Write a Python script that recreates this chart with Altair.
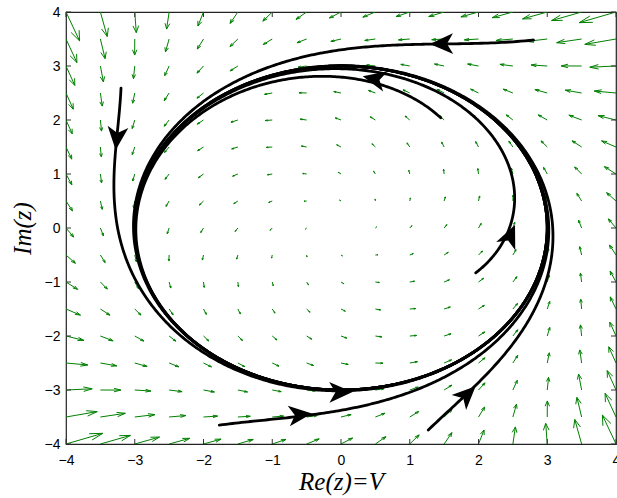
import numpy as np
import pandas as pd
import altair as alt

# Andronov-Hopf normal form  z' = (b + i w) z + (c + i d) z |z|^2,  z = V + i W
B, OMEGA = 0.85, 1.0
C, D = -0.85 / 9.0, 0.0

# quiver grid and axis ticks
GRID = [-4.0, -3.5, -3.0, -2.5, -2.0, -1.5, -1.0, -0.5, 0.0,
        0.5, 1.0, 1.5, 2.0, 2.5, 3.0, 3.5, 4.0]
TICKS = [-4, -3, -2, -1, 0, 1, 2, 3, 4]

# initial conditions of the drawn trajectories
START_X = [2.8, -3.2, 1.45, 1.96, -1.77, 1.27]
START_Y = [3.48, 2.59, 2.04, -0.83, -3.65, -3.74]

# arrowheads marking the direction of motion
HEAD_X = [1.47, -3.26, 0.49, 2.46, -0.01, -0.6, 1.83]
HEAD_Y = [3.41, 1.67, 2.76, -0.15, -3.04, -3.46, -3.09]

T_END = 7.0
DT = 0.01
QUIVER_LEN = 0.57            # length of the longest field arrow (data units)
HEAD_A, HEAD_B = 0.33, 0.33  # quiver head length / width factors

W_PX, H_PX = 550, 432
LO, HI = -4.0, 4.0


def field(x, y):
    r2 = x * x + y * y
    u = B * x - OMEGA * y + (C * x - D * y) * r2
    v = OMEGA * x + B * y + (D * x + C * y) * r2
    return u, v


# ---- vector field (quiver) ----
gx, gy = np.meshgrid(GRID, GRID)
gx, gy = gx.ravel(), gy.ravel()
u, v = field(gx, gy)
s = QUIVER_LEN / np.max(np.hypot(u, v))
u, v = u * s, v * s
tx, ty = gx + u, gy + v
h1x = tx - HEAD_A * (u + HEAD_B * v)
h1y = ty - HEAD_A * (v - HEAD_B * u)
h2x = tx - HEAD_A * (u - HEAD_B * v)
h2y = ty - HEAD_A * (v + HEAD_B * u)
segs = pd.DataFrame({
    "x": np.concatenate([gx, tx, tx]),
    "y": np.concatenate([gy, ty, ty]),
    "x2": np.concatenate([tx, h1x, h2x]),
    "y2": np.concatenate([ty, h1y, h2y]),
})

# ---- trajectories (RK4) ----
rows = []
n_steps = int(round(T_END / DT))
for k, (x0, y0) in enumerate(zip(START_X, START_Y)):
    x, y = x0, y0
    for i in range(n_steps + 1):
        rows.append({"traj": k, "step": i, "x": x, "y": y})
        k1 = field(x, y)
        k2 = field(x + DT / 2 * k1[0], y + DT / 2 * k1[1])
        k3 = field(x + DT / 2 * k2[0], y + DT / 2 * k2[1])
        k4 = field(x + DT * k3[0], y + DT * k3[1])
        x += DT / 6 * (k1[0] + 2 * k2[0] + 2 * k3[0] + k4[0])
        y += DT / 6 * (k1[1] + 2 * k2[1] + 2 * k3[1] + k4[1])
traj = pd.DataFrame(rows)

# ---- arrowheads, rotated along the flow in screen space ----
hx, hy = np.array(HEAD_X), np.array(HEAD_Y)
hu, hv = field(hx, hy)
sx = hu * W_PX / (HI - LO)
sy = hv * H_PX / (HI - LO)
angle = np.degrees(np.arctan2(sx, sy)) % 360
heads = pd.DataFrame({"x": hx, "y": hy, "angle": angle})

ticks = pd.DataFrame({"t": TICKS})

xs = alt.Scale(domain=[LO, HI], nice=False, zero=False)
ys = alt.Scale(domain=[LO, HI], nice=False, zero=False)

LABEL_FONT = "Liberation Sans"
TITLE_FONT = "Liberation Serif"

x_axis = alt.Axis(values=TICKS, ticks=False, domain=False, grid=False,
                  labelFont=LABEL_FONT, labelFontSize=14, labelColor="black",
                  labelPadding=9, labelFlush=False,
                  title="Re(z)=V", titleFont=TITLE_FONT, titleFontStyle="italic",
                  titleFontWeight="normal", titleFontSize=25, titleColor="black",
                  titlePadding=2)
y_axis = alt.Axis(values=TICKS, ticks=False, domain=False, grid=False,
                  labelFont=LABEL_FONT, labelFontSize=14, labelColor="black",
                  labelPadding=6, labelFlush=False,
                  title="Im(z)", titleFont=TITLE_FONT, titleFontStyle="italic",
                  titleFontWeight="normal", titleFontSize=25, titleColor="black",
                  titlePadding=9)


def X(field_name):
    return alt.X(field_name, type="quantitative", scale=xs, axis=x_axis)


def Y(field_name):
    return alt.Y(field_name, type="quantitative", scale=ys, axis=y_axis)


quiver = alt.Chart(segs).mark_rule(color="#008000", strokeWidth=1.0, clip=True).encode(
    x=X("x"), y=Y("y"), x2="x2:Q", y2="y2:Q",
)

lines = alt.Chart(traj).mark_line(color="black", strokeWidth=2.8, strokeCap="round",
                                  strokeJoin="round", clip=True).encode(
    x=X("x"), y=Y("y"), detail="traj:N", order="step:Q",
)

arrow_shape = "M0,-1L0.85,0.9L0,0.4L-0.85,0.9Z"
arrows = alt.Chart(heads).mark_point(shape=arrow_shape, size=600, filled=True,
                                     color="black", opacity=1).encode(
    x=X("x"), y=Y("y"), angle=alt.Angle("angle:Q", scale=None),
)

TICK_LEN = 5
tick_color = "#333333"
bottom_ticks = alt.Chart(ticks).mark_rule(color=tick_color, strokeWidth=1).encode(
    x=X("t"), y=alt.value(H_PX), y2=alt.value(H_PX - TICK_LEN))
top_ticks = alt.Chart(ticks).mark_rule(color=tick_color, strokeWidth=1).encode(
    x=X("t"), y=alt.value(0), y2=alt.value(TICK_LEN))
left_ticks = alt.Chart(ticks).mark_rule(color=tick_color, strokeWidth=1).encode(
    y=Y("t"), x=alt.value(0), x2=alt.value(TICK_LEN))
right_ticks = alt.Chart(ticks).mark_rule(color=tick_color, strokeWidth=1).encode(
    y=Y("t"), x=alt.value(W_PX), x2=alt.value(W_PX - TICK_LEN))

chart = alt.layer(
    quiver, lines, arrows, bottom_ticks, top_ticks, left_ticks, right_ticks
).properties(
    width=W_PX, height=H_PX,
    autosize=alt.AutoSizeParams(type="none"),
    padding={"left": 66, "top": 12, "right": 1, "bottom": 54},
    background="white",
).configure_view(stroke="#222222", strokeWidth=1.2)

chart.save("out.html", embed_options={"renderer": "svg", "actions": False})
